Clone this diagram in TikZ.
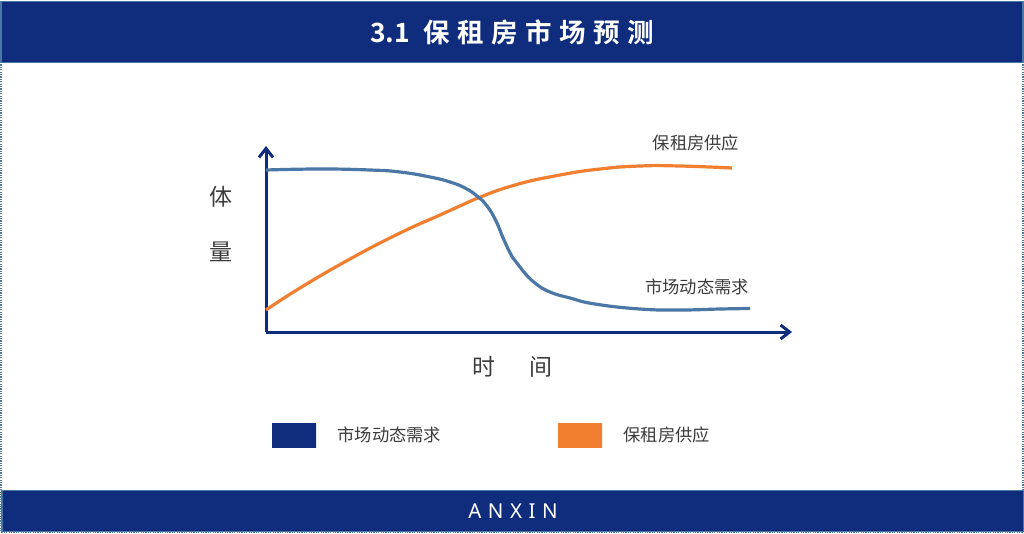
\documentclass[tikz,border=0pt]{standalone}
\usepackage{fontspec}
\setmainfont{Noto Sans CJK SC}
\newfontfamily\cjk{Noto Sans CJK SC}
\newfontfamily\titlefont[LetterSpace=28,BoldFont={Noto Sans CJK SC Bold}]{Noto Sans CJK SC}
\newfontfamily\numfont[BoldFont={Noto Sans CJK SC Bold}]{Noto Sans CJK SC}
\newfontfamily\footfont[LetterSpace=32]{Noto Sans}
\usetikzlibrary{positioning,arrows.meta}
\definecolor{barblue}{HTML}{0F2D7C}
\definecolor{edgeblue}{HTML}{4A77A3}
\definecolor{curveblue}{HTML}{4A77A6}
\definecolor{curveorange}{HTML}{F17F2F}
\definecolor{textgray}{HTML}{3C3C3C}
\tikzset {
    style A/.style={
        top color=barblue,
        bottom color=barblue,
        draw=edgeblue,
        line width=1.2pt,
        rectangle, % Set the shape as a rectangle
        minimum width=1022pt,
        text=white,
        align=center,
    },
    style B/.style={
        top color=#1,
        bottom color=#1,
        draw=none,
        rectangle, % Set the shape as a rectangle
        minimum width=44pt,
        minimum height=24pt,
    },
    style C/.style={
        text=textgray,
        font=\cjk\fontsize{17.3}{19}\selectfont,
        inner sep=0pt,
    },
    style axis/.style={
        draw=barblue,
        line width=3pt,
        -{Straight Barb[length=9pt,width=14pt,line width=3pt]},
    },
    style curve/.style={
        line width=3.2pt,
        smooth,
        tension=0.8,
    },
    style border/.style={
        draw=edgeblue,
        line width=1.2pt,
        dash pattern=on 1.2pt off 1.2pt,
    },
}
\begin{document}
\begin{tikzpicture}[x=1pt,y=-1pt]
    \useasboundingbox (0,0) rectangle (1024,533);
    % frame
    \draw[style border] (1,62) -- (1,532) -- (1023,532) -- (1023,62);
    \node[style A, minimum height=61pt, font=\bfseries\fontsize{26.5}{28}\selectfont] (title) at (512,32) {{\numfont\bfseries 3.1}\hspace{14pt}{\titlefont\bfseries 保租房市场预测}};
    \node[style A, minimum height=41pt, font=\footfont\fontsize{20.5}{22}\selectfont] (foot) at (513,511) {ANXIN};
    % axes
    \coordinate (origin) at (266,332);
    \coordinate (ytop) at (266,146);
    \coordinate (xend) at (792,332);
    \draw[style axis] (origin) -- (ytop);
    \draw[style axis] (origin) -- (xend);
    % curves
    \draw[style curve, curveorange] plot coordinates {(266,310) (300,288) (350,259) (400,233) (440,215) (473,200) (515,185) (560,175) (600,169) (640,166) (680,166) (732,168)};
    \draw[style curve, curveblue] plot coordinates {(266,170) (320,169) (370,170) (400,172) (430,177) (450,182) (465,188) (477,196) (487,206) (496,221) (504,240) (513,258) (523,271) (535,283) (550,292) (570,298) (595,304) (640,309) (680,310) (720,309) (750,308.5)};
    % labels
    \node[style C] (supply) at (696,143) {保租房供应};
    \node[style C] (demand) at (697,287) {市场动态需求};
    \node[style C, font=\cjk\fontsize{23}{25}\selectfont] (yti) at (221,197) {体};
    \node[style C, font=\cjk\fontsize{23}{25}\selectfont] (yliang) at (221,252) {量};
    \node[style C, font=\cjk\fontsize{23}{25}\selectfont] (xshi) at (484,367) {时};
    \node[style C, font=\cjk\fontsize{23}{25}\selectfont] (xjian) at (541,367) {间};
    % legend
    \node[style B=barblue] (keyblue) at (294,435) {};
    \node[style C, right=21pt of keyblue] (keybluetext) {市场动态需求};
    \node[style B=curveorange] (keyorange) at (580,435) {};
    \node[style C, right=21pt of keyorange] (keyorangetext) {保租房供应};
\end{tikzpicture}
\end{document}
